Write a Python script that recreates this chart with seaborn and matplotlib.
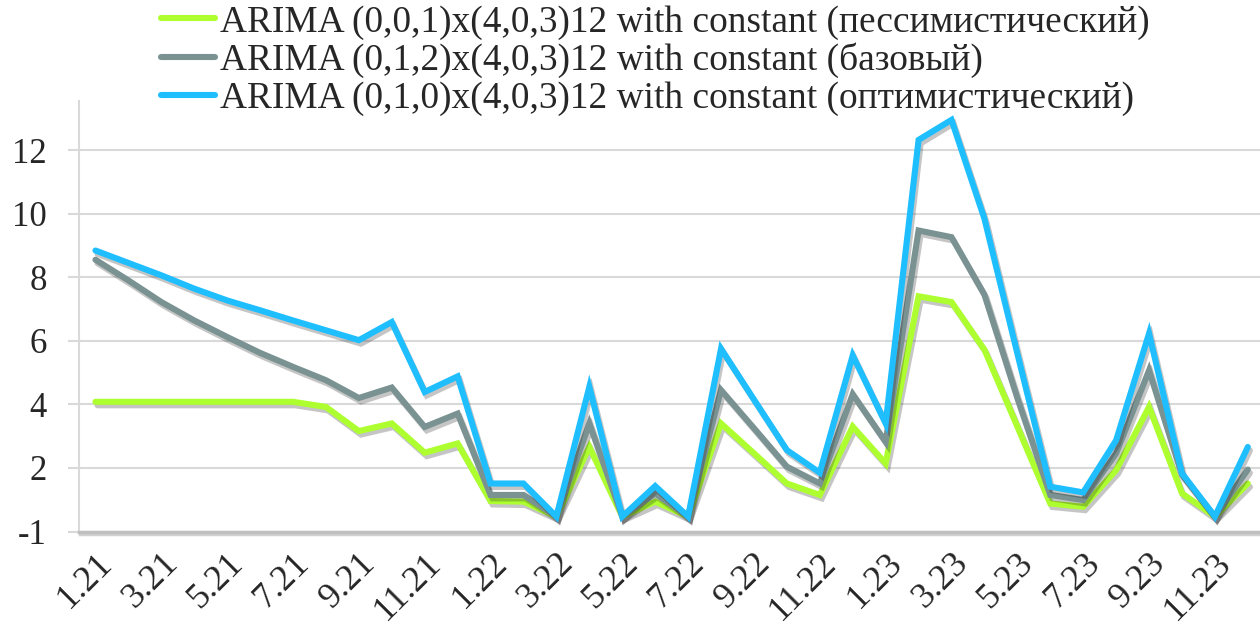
import numpy as np
import pandas as pd
import matplotlib
matplotlib.use("Agg")
import matplotlib.pyplot as plt
import matplotlib.patheffects as pe
import seaborn as sns

# months 1.21 .. 12.23
months = [f"{m}.{y}" for y in (21, 22, 23) for m in range(1, 13)]

pess = [4.08, 4.08, 4.08, 4.08, 4.08, 4.08, 4.08, 3.92, 3.16, 3.40, 2.48, 2.77,
        0.96, 0.94, 0.47, 2.66, 0.47, 0.94, 0.47, 3.40, 2.46, 1.51, 1.15, 3.30,
        2.14, 7.40, 7.22, 5.72, 3.30, 0.88, 0.78, 1.93, 3.92, 1.20, 0.47, 1.51]
base = [8.55, 7.90, 7.22, 6.64, 6.12, 5.62, 5.18, 4.76, 4.20, 4.53, 3.29, 3.71,
        1.15, 1.15, 0.47, 3.40, 0.47, 1.20, 0.47, 4.45, 3.25, 2.04, 1.51, 4.32,
        2.82, 9.47, 9.26, 7.45, 4.20, 1.15, 0.99, 2.46, 5.07, 1.78, 0.47, 1.95]
opt = [8.84, 8.45, 8.06, 7.64, 7.27, 6.96, 6.64, 6.33, 6.02, 6.59, 4.39, 4.88,
       1.51, 1.51, 0.47, 4.55, 0.47, 1.43, 0.47, 5.75, 4.15, 2.56, 1.85, 5.54,
       3.40, 12.32, 12.95, 9.84, 5.60, 1.41, 1.23, 2.87, 6.23, 1.83, 0.47, 2.66]

labels = ["ARIMA (0,0,1)x(4,0,3)12 with constant (пессимистический)",
          "ARIMA (0,1,2)x(4,0,3)12 with constant (базовый)",
          "ARIMA (0,1,0)x(4,0,3)12 with constant (оптимистический)"]
colors = ["#ADFF2F", "#7A9292", "#1EBEFF"]

y_ticks = [0, 2, 4, 6, 8, 10, 12]
y_ticklabels = ["-1", "2", "4", "6", "8", "10", "12"]

df = pd.concat([
    pd.DataFrame({"idx": np.arange(len(months)), "value": vals, "scenario": lab})
    for vals, lab in zip([pess, base, opt], labels)
], ignore_index=True)

sns.set_theme(style="white")
plt.rcParams["font.family"] = ["Liberation Serif", "DejaVu Serif"]

fig = plt.figure(figsize=(12.6, 6.32), dpi=100)
ax = fig.add_axes([79 / 1260, 100.5 / 632, 1 - 79 / 1260, 431 / 632])

sns.lineplot(data=df, x="idx", y="value", hue="scenario", hue_order=labels,
             palette=dict(zip(labels, colors)), linewidth=4.4, sort=False,
             legend=False, ax=ax)

shadow = [pe.SimpleLineShadow(offset=(1.5, -2.5), shadow_color="k", alpha=0.25),
          pe.Normal()]
for ln in ax.lines:
    ln.set_path_effects(shadow)
    ln.set_solid_joinstyle("miter")

ax.set_xlim(-0.5, 35.37)
ax.set_ylim(0, 13.56)
ax.set_yticks(y_ticks)
ax.set_yticklabels(y_ticklabels)
ax.set_xticks(range(0, len(months), 2))
ax.set_xticklabels(months[::2], rotation=45, ha="right", rotation_mode="anchor")
ax.set_xlabel("")
ax.set_ylabel("")

ax.yaxis.grid(True, color="#D9D9D9", linewidth=1.5)
ax.set_axisbelow(True)
ax.tick_params(axis="y", length=8, width=1.5, color="#D9D9D9", pad=15,
               labelsize=25, left=True)
ax.tick_params(axis="x", length=0, pad=11, labelsize=26)

for s in ["top", "right"]:
    ax.spines[s].set_visible(False)
ax.spines["left"].set_color("#D9D9D9")
ax.spines["left"].set_linewidth(1.5)
ax.spines["bottom"].set_color("#BFBFBF")
ax.spines["bottom"].set_linewidth(2.5)
ax.spines["bottom"].set_path_effects(
    [pe.SimpleLineShadow(offset=(1, -2), shadow_color="k", alpha=0.2), pe.Normal()])

handles = [plt.Line2D([], [], color=c, linewidth=4.4, solid_capstyle="round") for c in colors]
fig.legend(handles, labels, loc="upper left", bbox_to_anchor=(161 / 1260, 1 - 5 / 632),
           frameon=False, fontsize=26.9, handlelength=1.45, handletextpad=0.12,
           labelspacing=0.08, borderpad=0, borderaxespad=0)

fig.savefig("out.png", dpi=100)
